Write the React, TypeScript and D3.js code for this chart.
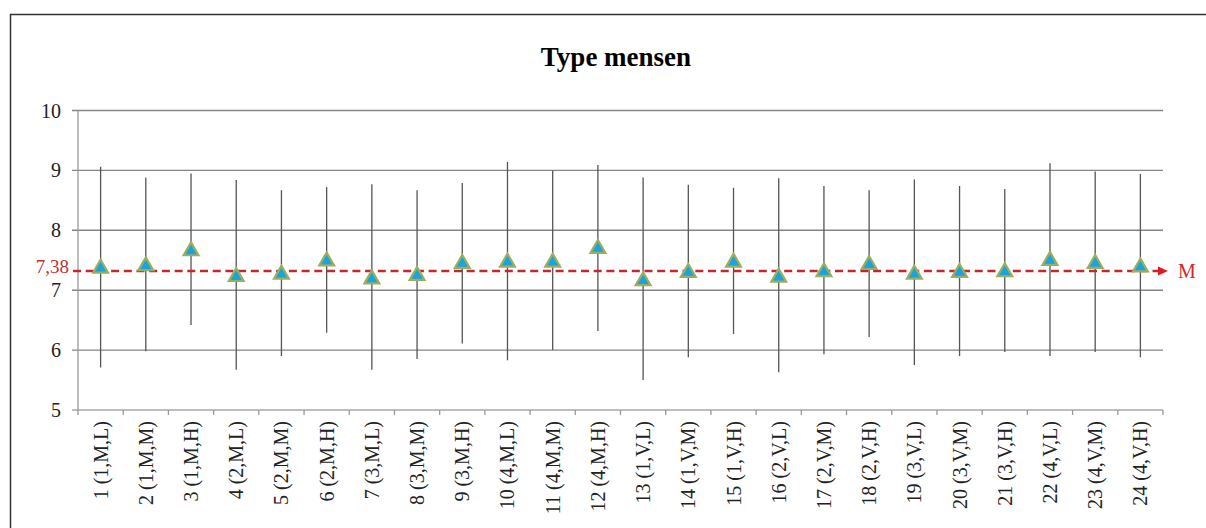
import React from "react";
import * as d3 from "d3";

const categories = [
  "1 (1,M,L)", "2 (1,M,M)", "3 (1,M,H)", "4 (2,M,L)", "5 (2,M,M)", "6 (2,M,H)",
  "7 (3,M,L)", "8 (3,M,M)", "9 (3,M,H)", "10 (4,M,L)", "11 (4,M,M)", "12 (4,M,H)",
  "13 (1,V,L)", "14 (1,V,M)", "15 (1,V,H)", "16 (2,V,L)", "17 (2,V,M)", "18 (2,V,H)",
  "19 (3,V,L)", "20 (3,V,M)", "21 (3,V,H)", "22 (4,V,L)", "23 (4,V,M)", "24 (4,V,H)",
];
const means = [7.39, 7.43, 7.68, 7.25, 7.29, 7.51, 7.21, 7.27, 7.47, 7.49, 7.49, 7.72,
  7.18, 7.32, 7.49, 7.24, 7.33, 7.45, 7.29, 7.32, 7.33, 7.52, 7.47, 7.41];
const highs = [9.06, 8.88, 8.95, 8.84, 8.67, 8.72, 8.77, 8.67, 8.79, 9.14, 9.0, 9.09,
  8.88, 8.76, 8.71, 8.87, 8.74, 8.67, 8.85, 8.74, 8.69, 9.12, 8.98, 8.94];
const lows = [5.71, 5.98, 6.42, 5.67, 5.9, 6.29, 5.67, 5.85, 6.11, 5.83, 6.0, 6.32,
  5.5, 5.88, 6.27, 5.63, 5.93, 6.22, 5.75, 5.9, 5.97, 5.9, 5.97, 5.88];
const yTicks = [5, 6, 7, 8, 9, 10];
const meanLineValue = 7.32;
const meanLabel = "7,38";
const meanLineName = "M";
const title = "Type mensen";

const W = 1206;
const H = 528;
const FONT = "'Liberation Serif', 'Times New Roman', serif";

export default function App() {
  const x = d3.scaleBand<string>().domain(categories).range([78, 1163]).padding(0);
  const y = d3.scaleLinear().domain([5, 10]).range([410, 110.5]);
  const cx = (c: string) => (x(c) as number) + x.bandwidth() / 2;
  const tri = d3.symbol().type(d3.symbolTriangle).size(95)();
  const bounds = [...categories.map((c) => x(c) as number), x.range()[1]];
  const ym = y(meanLineValue);

  return (
    <svg width={W} height={H} style={{ position: "absolute", left: 0, top: 0, background: "#fff" }}>
      <rect x={10.5} y={14.5} width={1400} height={800} fill="#fff" stroke="#333" strokeWidth={1.5} />
      <text x={616} y={66} textAnchor="middle" fontFamily={FONT} fontWeight="bold" fontSize={27} fill="#000">
        {title}
      </text>
      {/* gridlines */}
      {yTicks.map((t) => (
        <g key={t}>
          <line x1={72} x2={1163} y1={y(t)} y2={y(t)} stroke={t === 5 ? "#a8a8a8" : "#858585"} strokeWidth={1.4} />
          <text x={61} y={y(t)} dy="0.35em" textAnchor="end" fontFamily={FONT} fontSize={20} fill="#222">
            {t}
          </text>
        </g>
      ))}
      {/* y axis */}
      <line x1={78} x2={78} y1={y(10)} y2={y(5)} stroke="#999" strokeWidth={1.3} />
      {/* x ticks */}
      {bounds.map((b, i) => (
        <line key={i} x1={b} x2={b} y1={y(5)} y2={y(5) + 5} stroke="#999" strokeWidth={1.3} />
      ))}
      {/* x labels */}
      {categories.map((c) => (
        <text
          key={c}
          transform={`translate(${cx(c)},${421}) rotate(-90)`}
          dy="0.35em"
          textAnchor="end"
          fontFamily={FONT}
          fontSize={20}
          fill="#222"
        >
          {c}
        </text>
      ))}
      {/* error bars */}
      {categories.map((c, i) => (
        <line key={c} x1={cx(c)} x2={cx(c)} y1={y(highs[i])} y2={y(lows[i])} stroke="#555" strokeWidth={1.3} />
      ))}
      {/* mean line */}
      <line x1={73} x2={1160} y1={ym} y2={ym} stroke="#c4282c" strokeWidth={2.6} strokeDasharray="8,4.7" />
      <path d={`M1158,${ym - 4.5} L1168,${ym} L1158,${ym + 4.5} Z`} fill="#e8171b" />
      <text x={1178} y={ym} dy="0.35em" fontFamily={FONT} fontSize={20} fill="#d4262a">
        {meanLineName}
      </text>
      <text x={69} y={ym + 2} textAnchor="end" fontFamily={FONT} fontSize={19} fill="#c0302e">
        {meanLabel}
      </text>
      {/* markers */}
      {categories.map((c, i) => (
        <path
          key={c}
          d={tri as string}
          transform={`translate(${cx(c)},${y(means[i]) + 1.5})`}
          fill="#1aa3dc"
          stroke="#9aae60"
          strokeWidth={2.2}
        />
      ))}
    </svg>
  );
}
